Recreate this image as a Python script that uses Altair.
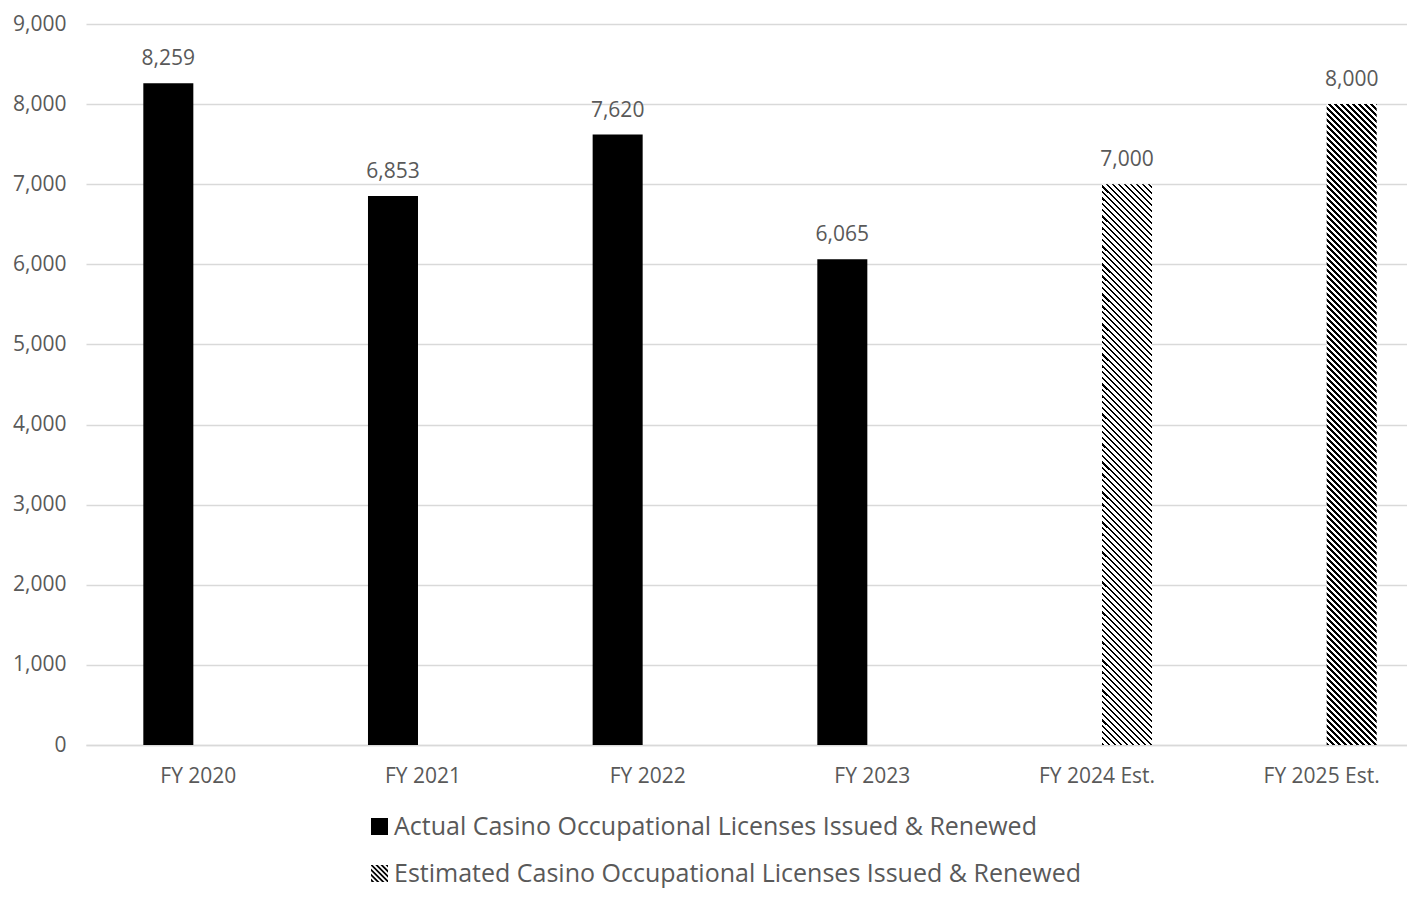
import math
import altair as alt
import pandas as pd

# ---------------- data ----------------
years = ["FY 2020", "FY 2021", "FY 2022", "FY 2023", "FY 2024 Est.", "FY 2025 Est."]
values = [8259, 6853, 7620, 6065, 7000, 8000]
ACTUAL = "Actual Casino Occupational Licenses Issued & Renewed"
ESTIMATED = "Estimated Casino Occupational Licenses Issued & Renewed"
series_of_year = [ACTUAL, ACTUAL, ACTUAL, ACTUAL, ESTIMATED, ESTIMATED]
series_order = [ACTUAL, ESTIMATED]
y_ticks = [0, 1000, 2000, 3000, 4000, 5000, 6000, 7000, 8000, 9000]

df = pd.DataFrame({"year": years, "value": values, "series": series_of_year})

# ---------------- styling ----------------
FONT = "Open Sans"
TEXT = "#595959"
GRID = "#d9d9d9"
W, H = 1318, 721
YMAX = 9000
X_RANGE = [-3, 1345]
BAR_W = 50


def hatch_gradient(px_height, px_width=BAR_W, period=6.0, dark=0.45):
    """Diagonal '\\' stripes made from a hard-stop linear gradient."""
    a = px_width / px_height
    s = 1 + a  # stretch so that the whole box is covered by offsets 0..1
    dt = period / (px_height * (1 + a * a)) / s
    stops = []
    k = 0
    while k * dt < 1:
        t0 = k * dt
        t1 = min(1, t0 + dark * dt)
        t2 = min(1, t0 + dt)
        stops += [
            {"offset": round(t0, 5), "color": "black"},
            {"offset": round(t1, 5), "color": "black"},
            {"offset": round(t1, 5), "color": "white"},
            {"offset": round(t2, 5), "color": "white"},
        ]
        k += 1
    return {"gradient": "linear", "x1": 0, "y1": 1,
            "x2": round(a * s, 5), "y2": round(1 - s, 5), "stops": stops}


def clip_square(poly):
    def clip(poly, inside, inter):
        out = []
        for i in range(len(poly)):
            cur, prev = poly[i], poly[i - 1]
            if inside(cur):
                if not inside(prev):
                    out.append(inter(prev, cur))
                out.append(cur)
            elif inside(prev):
                out.append(inter(prev, cur))
        return out

    def ix(v):
        return lambda p, q: (v, p[1] + (q[1] - p[1]) * (v - p[0]) / (q[0] - p[0]))

    def iy(v):
        return lambda p, q: (p[0] + (q[0] - p[0]) * (v - p[1]) / (q[1] - p[1]), v)

    poly = clip(poly, lambda p: p[0] >= -1, ix(-1))
    poly = clip(poly, lambda p: p[0] <= 1, ix(1))
    poly = clip(poly, lambda p: p[1] >= -1, iy(-1))
    poly = clip(poly, lambda p: p[1] <= 1, iy(1))
    return poly


def hatch_symbol(period=0.6, thick=0.3):
    parts = []
    c = -2.0
    while c < 2.0:
        band = [(-3, -3 + c), (3, 3 + c), (3, 3 + c + thick), (-3, -3 + c + thick)]
        pts = clip_square(band)
        if len(pts) >= 3:
            parts.append("M" + "L".join(f"{x:.3f},{y:.3f}" for x, y in pts) + "Z")
        c += period
    return "".join(parts)


HATCH = hatch_symbol()

# ---------------- encodings ----------------
x_enc = alt.X(
    "year:N",
    sort=years,
    scale=alt.Scale(domain=years, range=X_RANGE, paddingInner=0, paddingOuter=0),
    axis=alt.Axis(
        title=None, labelAngle=0, ticks=False, domainColor=GRID, domainWidth=1.5,
        labelFont=FONT, labelFontSize=21, labelColor=TEXT, labelPadding=20,
        grid=False,
    ),
)
xoff_enc = alt.XOffset(
    "series:N",
    scale=alt.Scale(domain=series_order, paddingInner=1 / 6, paddingOuter=0.955),
)
y_enc = alt.Y(
    "value:Q",
    scale=alt.Scale(domain=[0, YMAX], nice=False),
    axis=alt.Axis(
        title=None, values=y_ticks, format=",.0f", domain=False, ticks=False,
        labelFont=FONT, labelFontSize=21, labelColor=TEXT, labelPadding=23,
        gridColor=GRID, gridWidth=1.3,
    ),
)

base = alt.Chart(df)

actual_bars = base.transform_filter(alt.datum.series == ACTUAL).mark_bar(
    color="black"
).encode(x=x_enc, xOffset=xoff_enc, y=y_enc)

est_layers = []
for yr, v, s in zip(years, values, series_of_year):
    if s != ESTIMATED:
        continue
    h = v / YMAX * H
    est_layers.append(
        base.transform_filter(alt.datum.year == yr)
        .mark_bar(fill=hatch_gradient(h), stroke=None)
        .encode(x=x_enc, xOffset=xoff_enc, y=y_enc)
    )

labels = base.mark_text(
    baseline="alphabetic", dy=-18, font=FONT, fontSize=21, color=TEXT
).encode(x=x_enc, xOffset=xoff_enc, y=y_enc, text=alt.Text("value:Q", format=",.0f"))

legend_points = base.mark_point(filled=True, color="black", opacity=1).encode(
    x=alt.value(0),
    y=alt.value(0),
    size=alt.value(0),
    shape=alt.Shape(
        "series:N",
        scale=alt.Scale(domain=series_order, range=["square", HATCH]),
        legend=alt.Legend(
            title=None, orient="none", legendX=278, legendY=790, direction="vertical",
            symbolSize=289, symbolFillColor="black", symbolStrokeWidth=0, symbolOpacity=1,
            labelFont=FONT, labelFontSize=25, labelColor=TEXT, labelLimit=0,
            labelOffset=2, rowPadding=21, padding=0,
        ),
    ),
)

chart = alt.layer(actual_bars, *est_layers, labels, legend_points).properties(
    width=W,
    height=H,
    autosize=alt.AutoSizeParams(type="none"),
    padding={"left": 81, "top": 16, "right": 0, "bottom": 147},
    background="white",
).configure_view(stroke=None)

chart.save("out.html", embed_options={"renderer": "svg", "actions": False})
